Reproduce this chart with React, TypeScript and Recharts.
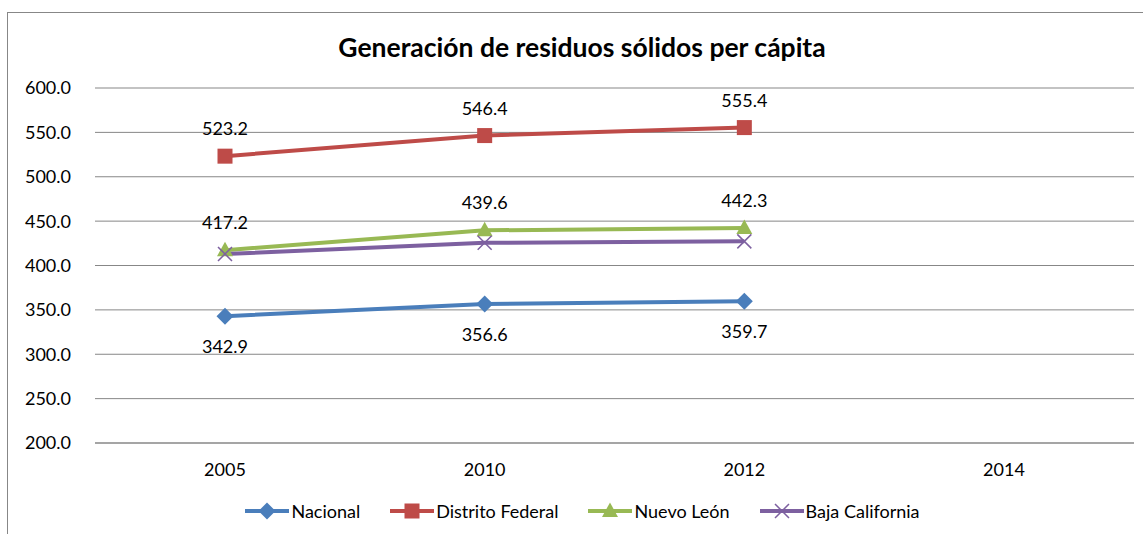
import * as React from "react";
import { LineChart, Line, XAxis, YAxis, CartesianGrid, LabelList } from "recharts";

const years = ["2005", "2010", "2012", "2014"];
const nacional = [342.9, 356.6, 359.7, null];
const distritoFederal = [523.2, 546.4, 555.4, null];
const nuevoLeon = [417.2, 439.6, 442.3, null];
const bajaCalifornia = [413.0, 425.6, 427.2, null];
const yTicks = [200, 250, 300, 350, 400, 450, 500, 550, 600];

const data = years.map((year, i) => ({
  year,
  nacional: nacional[i],
  df: distritoFederal[i],
  nl: nuevoLeon[i],
  bc: bajaCalifornia[i],
}));

const FONT = "Lato, 'Noto Sans', sans-serif";
const TEXT_SIZE = 18;

type Shape = "diamond" | "square" | "triangle" | "x";

const series: { key: string; name: string; color: string; shape: Shape; label: "above" | "below" | null }[] = [
  { key: "nacional", name: "Nacional", color: "#4A7EBB", shape: "diamond", label: "below" },
  { key: "df", name: "Distrito Federal", color: "#BE4B48", shape: "square", label: "above" },
  { key: "nl", name: "Nuevo León", color: "#98B954", shape: "triangle", label: "above" },
  { key: "bc", name: "Baja California", color: "#7D60A0", shape: "x", label: null },
];

function marker(shape: Shape, cx: number, cy: number, color: string, key?: string) {
  switch (shape) {
    case "diamond":
      return <path key={key} d={`M${cx},${cy - 8.5}L${cx + 8.5},${cy}L${cx},${cy + 8.5}L${cx - 8.5},${cy}Z`} fill={color} />;
    case "square":
      return <rect key={key} x={cx - 7.5} y={cy - 7.5} width={15} height={15} fill={color} />;
    case "triangle":
      return <path key={key} d={`M${cx},${cy - 8.5}L${cx + 8},${cy + 6}L${cx - 8},${cy + 6}Z`} fill={color} />;
    default:
      return (
        <path
          key={key}
          d={`M${cx - 7},${cy - 7}L${cx + 7},${cy + 7}M${cx + 7},${cy - 7}L${cx - 7},${cy + 7}`}
          stroke={color}
          strokeWidth={1.5}
          fill="none"
        />
      );
  }
}

const makeDot = (shape: Shape, color: string) => (props: any) => {
  const { cx, cy, index, value } = props;
  if (value == null || cx == null || cy == null) return <g key={`e${index}`} />;
  return marker(shape, cx, cy, color, `d${index}`);
};

const makeLabel = (dir: "above" | "below") => (props: any) => {
  const { x, y, value, index } = props;
  if (value == null) return null;
  return (
    <text
      key={`l${index}`}
      x={x}
      y={y + (dir === "above" ? -28 : 30)}
      textAnchor="middle"
      dominantBaseline="central"
      fontFamily={FONT}
      fontSize={TEXT_SIZE}
      fill="#000"
    >
      {Number(value).toFixed(1)}
    </text>
  );
};

export default function App() {
  return (
    <div style={{ position: "absolute", left: 0, top: 0, width: 1143, height: 534, background: "#fff", overflow: "hidden" }}>
      <div
        style={{
          position: "absolute",
          left: 7,
          top: 12,
          width: 1160,
          height: 560,
          border: "1px solid #878787",
        }}
      />
      <div
        style={{
          position: "absolute",
          left: 0,
          top: 31,
          width: 1164,
          textAlign: "center",
          fontFamily: FONT,
          fontWeight: 700,
          fontSize: 26.5,
          color: "#000",
        }}
      >
        Generación de residuos sólidos per cápita
      </div>
      <div style={{ position: "absolute", left: 0, top: 0 }}>
        <LineChart width={1143} height={534} data={data} margin={{ top: 88, right: 9, left: 0, bottom: 51 }}>
          <CartesianGrid vertical={false} stroke="#878787" strokeWidth={1} />
          <XAxis
            dataKey="year"
            padding={{ left: 130, right: 130 }}
            axisLine={{ stroke: "#878787" }}
            tickLine={false}
            tickSize={0}
            tickMargin={20}
            height={40}
            tick={{ fill: "#000", fontSize: TEXT_SIZE, fontFamily: FONT }}
          />
          <YAxis
            type="number"
            domain={[200, 600]}
            ticks={yTicks}
            axisLine={false}
            tickLine={false}
            tickSize={0}
            tickMargin={24}
            width={95}
            tick={{ fill: "#000", fontSize: TEXT_SIZE, fontFamily: FONT }}
            tickFormatter={(v) => Number(v).toFixed(1)}
          />
          {series.map((s) => (
            <Line
              key={s.key}
              dataKey={s.key}
              name={s.name}
              stroke={s.color}
              strokeWidth={4}
              dot={makeDot(s.shape, s.color)}
              activeDot={false}
              isAnimationActive={false}
              connectNulls={false}
            >
              {s.label && <LabelList dataKey={s.key} content={makeLabel(s.label)} />}
            </Line>
          ))}
        </LineChart>
      </div>
      <div
        style={{
          position: "absolute",
          left: 0,
          top: 500,
          width: 1165,
          display: "flex",
          justifyContent: "center",
          alignItems: "center",
          gap: 30,
          fontFamily: FONT,
          fontSize: TEXT_SIZE,
          color: "#000",
        }}
      >
        {series.map((s) => (
          <div key={s.key} style={{ display: "flex", alignItems: "center" }}>
            <svg width={44} height={22} style={{ marginRight: 2 }}>
              <line x1={0} y1={11} x2={44} y2={11} stroke={s.color} strokeWidth={4} />
              {marker(s.shape, 22, 11, s.color)}
            </svg>
            <span>{s.name}</span>
          </div>
        ))}
      </div>
    </div>
  );
}
